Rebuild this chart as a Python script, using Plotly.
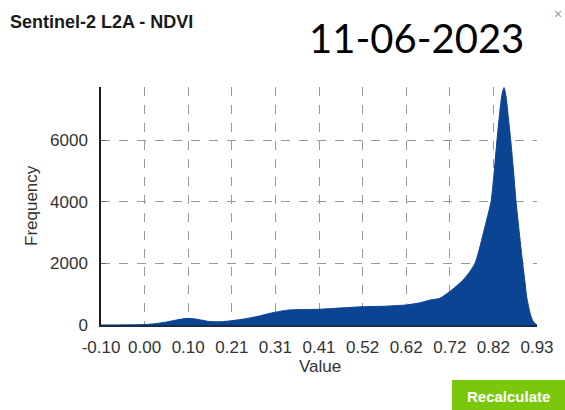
import plotly.graph_objects as go
import numpy as np

# NDVI histogram (value, frequency)
ndvi_value = [-0.1025, -0.06, -0.03, 0.0015, 0.025, 0.053, 0.079, 0.103, 0.127, 0.155,
              0.179, 0.207, 0.238, 0.268, 0.297, 0.337, 0.368, 0.412, 0.462, 0.514,
              0.568, 0.618, 0.651, 0.675, 0.698, 0.726, 0.753, 0.770, 0.781, 0.791,
              0.802, 0.812, 0.819, 0.826, 0.833, 0.8395, 0.845, 0.8496, 0.854, 0.8600,
              0.8654, 0.872, 0.878, 0.886, 0.8937, 0.899, 0.9032, 0.911, 0.917,
              0.9228, 0.9275]
frequency = [0, 3, 6, 15, 40, 100, 170, 215, 180, 110,
             105, 140, 200, 280, 380, 480, 500, 510, 550, 590,
             610, 650, 720, 810, 866, 1135, 1460, 1750, 2000, 2450,
             3050, 3600, 4000, 4900, 6000, 6900, 7500, 7700, 7450, 6700,
             6000, 5000, 4000, 2950, 2000, 1400, 910, 390, 150,
             50, 0]

tick_labels = ["-0.10", "0.00", "0.10", "0.21", "0.31", "0.41", "0.52",
               "0.62", "0.72", "0.82", "0.93"]
x_min, x_max = -0.1025, 0.9275
y_ticks = [0, 2000, 4000, 6000]
y_max = 7720

title_text = "Sentinel-2 L2A - NDVI"
date_text = "11-06-2023"

tick_pos = list(np.linspace(x_min, x_max, len(tick_labels)))

fig = go.Figure()
fig.add_trace(go.Scatter(
    x=ndvi_value, y=frequency, mode="lines", fill="tozeroy",
    line=dict(color="#0b4493", width=1, shape="spline", smoothing=0.6), fillcolor="#0b4493",
    hoverinfo="skip", showlegend=False))

font_main = "Liberation Sans, Arial, sans-serif"
fig.update_layout(
    width=565, height=410,
    margin=dict(l=101, r=28, t=87, b=85),
    paper_bgcolor="white", plot_bgcolor="white",
    font=dict(family=font_main, size=17, color="#333333"),
    showlegend=False,
)
fig.update_xaxes(
    range=[x_min, x_max], tickmode="array", tickvals=tick_pos, ticktext=tick_labels,
    showgrid=True, gridcolor="#999999", griddash="dash", gridwidth=1,
    showline=True, linecolor="#1a2a4a", linewidth=2,
    ticks="", zeroline=False, ticklabelstandoff=6,
    tickfont=dict(size=17, color="#333333"),
)
fig.update_yaxes(
    range=[0, y_max], tickmode="array", tickvals=y_ticks,
    showgrid=True, gridcolor="#999999", griddash="dash", gridwidth=1,
    showline=True, linecolor="#1a1a2a", linewidth=1.5,
    ticks="inside", ticklen=5, tickcolor="#666666",
    zeroline=False, ticklabelstandoff=8,
    tickfont=dict(size=17, color="#333333"),
)

fig.add_annotation(text=title_text, xref="paper", yref="paper",
                   x=-101/436 + 8/436, y=1 + (87 - 22)/238, xanchor="left", yanchor="middle",
                   showarrow=False, font=dict(family=font_main, size=18, color="#1a1a1a", weight="bold"))
fig.add_annotation(text=date_text, xref="paper", yref="paper",
                   x=(416 - 101)/436, y=1 + (87 - 38)/238, xanchor="center", yanchor="middle",
                   showarrow=False, font=dict(family="Lato, Noto Sans, sans-serif", size=40, color="#000000"))
fig.add_annotation(text="×", xref="paper", yref="paper",
                   x=(558 - 101)/436, y=1 + (87 - 14)/238, xanchor="center", yanchor="middle",
                   showarrow=False, font=dict(family=font_main, size=14, color="#999999"))
fig.add_annotation(text="Frequency", xref="paper", yref="paper",
                   x=(31 - 101)/436, y=(325 - 206)/238, xanchor="center", yanchor="middle",
                   textangle=-90, showarrow=False, font=dict(family=font_main, size=17, color="#333333"))
fig.add_annotation(text="Value", xref="paper", yref="paper",
                   x=(320 - 101)/436, y=(325 - 366)/238, xanchor="center", yanchor="middle",
                   showarrow=False, font=dict(family=font_main, size=17, color="#333333"))

# Recalculate button
fig.add_shape(type="rect", xref="paper", yref="paper",
              x0=(452 - 101)/436, x1=(565 - 101)/436,
              y0=(325 - 410)/238, y1=(325 - 380)/238,
              fillcolor="#7ac70c", line=dict(width=0), layer="above")
fig.add_annotation(text="Recalculate", xref="paper", yref="paper",
                   x=(508 - 101)/436, y=(325 - 396)/238, xanchor="center", yanchor="middle",
                   showarrow=False, font=dict(family=font_main, size=15, color="white", weight="bold"))

fig.write_html("out.html", config={"displayModeBar": False},
               post_script="document.body.style.margin='0px';document.body.style.overflow='hidden';")
